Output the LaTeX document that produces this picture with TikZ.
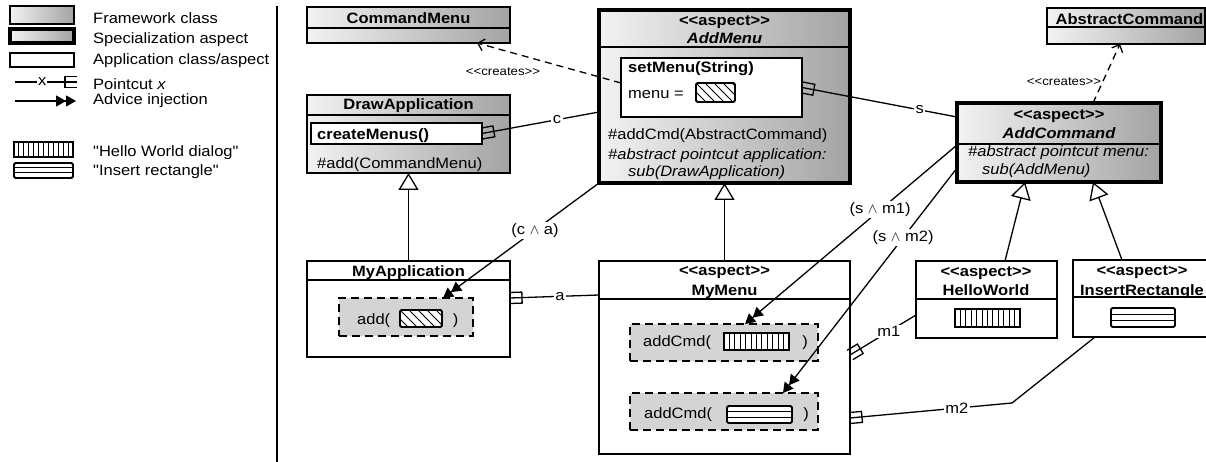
\documentclass[tikz,border=0pt]{standalone}
\usepackage{fontspec}
\setmainfont{Liberation Sans}[FakeStretch=1.1, Ligatures=TeXOff]
\usetikzlibrary{arrows.meta,calc}

% pointcut end: a three-pronged fork whose prongs touch the target
\pgfdeclarearrow{
  name = Fork,
  parameters = {\the\pgfarrowlength,\the\pgfarrowwidth},
  setup code = {
    \pgfarrowssettipend{0pt}
    \pgfarrowssetlineend{0pt}
    \pgfarrowssetbackend{-\pgfarrowlength}
    \pgfarrowshullpoint{0pt}{0.5\pgfarrowwidth}
    \pgfarrowshullpoint{0pt}{-0.5\pgfarrowwidth}
    \pgfarrowshullpoint{-\pgfarrowlength}{0.5\pgfarrowwidth}
    \pgfarrowshullpoint{-\pgfarrowlength}{-0.5\pgfarrowwidth}
    \pgfarrowssavethe\pgfarrowlength
    \pgfarrowssavethe\pgfarrowwidth
  },
  drawing code = {
    \pgfsetdash{}{0pt}
    \pgfsetmiterjoin
    \pgfpathmoveto{\pgfqpoint{0pt}{0.5\pgfarrowwidth}}
    \pgfpathlineto{\pgfqpoint{-\pgfarrowlength}{0.5\pgfarrowwidth}}
    \pgfpathlineto{\pgfqpoint{-\pgfarrowlength}{-0.5\pgfarrowwidth}}
    \pgfpathlineto{\pgfqpoint{0pt}{-0.5\pgfarrowwidth}}
    \pgfusepathqstroke
  },
  defaults = {length=12pt, width=11pt}
}

\definecolor{fwlight}{gray}{0.95}
\definecolor{fwdark}{gray}{0.64}
\definecolor{cutfill}{gray}{0.83}

\newcommand\fsz{\fontsize{15}{18}\selectfont}
\newcommand\fsm{\fontsize{12}{14}\selectfont}

\begin{document}
\begin{tikzpicture}[x=1pt,y=-1pt,
  box/.style={draw, line width=1.3pt, inner sep=0pt, outer sep=0pt, anchor=north west},
  fw/.style={box, left color=fwlight, right color=fwdark},
  spec/.style={fw, line width=4pt},
  app/.style={box, fill=white},
  cut/.style={draw, line width=2.4pt, dash pattern=on 8pt off 5pt, fill=cutfill,
    inner sep=0pt, outer sep=0pt, anchor=north west},
  hatchicon/.style={draw, line width=1.8pt, rounded corners=1.5pt, fill=white,
    inner sep=0pt, outer sep=0pt, anchor=north west,
    path picture={\foreach \k in {-2,...,6}{\draw[line width=1pt]
      ([xshift=\k*9pt]path picture bounding box.north west) -- ++(20pt,-20pt);}}},
  helloicon/.style={draw, line width=1.8pt, fill=white,
    inner sep=0pt, outer sep=0pt, anchor=north west,
    path picture={\foreach \k in {1,...,11}{\draw[line width=0.9pt]
      ($(path picture bounding box.north west)!\k/12!(path picture bounding box.north east)$) --
      ($(path picture bounding box.south west)!\k/12!(path picture bounding box.south east)$);}}},
  insicon/.style={draw, line width=1.8pt, rounded corners=1.5pt, fill=white,
    inner sep=0pt, outer sep=0pt, anchor=north west,
    path picture={\foreach \k in {1,2}{\draw[line width=1pt]
      ($(path picture bounding box.north west)!\k/3!(path picture bounding box.south west)$) --
      ($(path picture bounding box.north east)!\k/3!(path picture bounding box.south east)$);}}},
  txt/.style={inner sep=0pt, font=\fsz, anchor=base},
  txtw/.style={txt, anchor=base west},
  small/.style={inner sep=0pt, font=\fsm, anchor=base},
  lab/.style={fill=white, inner sep=1.5pt, font=\fsz},
  pc/.style={draw, line width=1.3pt, -{Fork}},
  adv/.style={draw, line width=1.3pt, -{Triangle[length=10pt,width=11pt]Triangle[length=10pt,width=11pt]}},
  gen/.style={draw, line width=1.3pt, -{Triangle[length=17pt,width=20pt,fill=white]}},
  crt/.style={draw, line width=1.3pt, dash pattern=on 7pt off 5pt, -{Straight Barb[length=6pt,width=12pt]}},
]
\useasboundingbox (0,0) rectangle (1206,462);
\clip (0,0) rectangle (1206,462);

% ---------------- legend ----------------
\node[fw, minimum width=64pt, minimum height=18pt] (lgfw) at (10,6) {};
\node[fw, line width=3.5pt, minimum width=64pt, minimum height=14pt] (lgspec) at (10,29) {};
\node[app, minimum width=64pt, minimum height=14pt] (lgapp) at (10,53) {};
\coordinate (lgpcA) at (15,82);
\coordinate (lgpcB) at (77,82);
\draw[pc] (lgpcA) -- node[lab, pos=0.44, inner sep=1pt] (lgx) {x} (lgpcB);
\coordinate (lgadA) at (15,101);
\coordinate (lgadB) at (76,101);
\draw[adv] (lgadA) -- (lgadB);
\node[helloicon, minimum width=59pt, minimum height=15pt] (lghello) at (14,142) {};
\node[insicon, minimum width=59pt, minimum height=15pt] (lgins) at (14,163) {};

\node[txtw] (lt1) at (93,24) {Framework class};
\node[txtw] (lt2) at (93,44) {Specialization aspect};
\node[txtw] (lt3) at (93,64.3) {Application class/aspect};
\node[txtw] (lt4) at (93,89.3) {Pointcut \textit{x}};
\node[txtw] (lt5) at (93,104.7) {Advice injection};
\node[txtw] (lt6) at (93,156.7) {"Hello World dialog"};
\node[txtw] (lt7) at (93,176) {"Insert rectangle"};

\coordinate (sepT) at (277,6);
\coordinate (sepB) at (277,462);
\draw[line width=1.2pt] (sepT) -- (sepB);

% ---------------- framework classes ----------------
\node[fw, minimum width=203pt, minimum height=36pt] (cmdmenu) at (307,7) {};
\draw[line width=1.3pt] (307,28) -- (510,28);
\node[txt, font=\fsz\bfseries] (tcm) at (408.5,24) {CommandMenu};

\node[fw, minimum width=203pt, minimum height=78pt] (drawapp) at (307,95) {};
\draw[line width=1.3pt] (307,115) -- (510,115);
\node[txt, font=\fsz\bfseries] (tda) at (408.5,110) {DrawApplication};
\node[app, minimum width=171pt, minimum height=21pt] (createmenus) at (311,123) {};
\node[txtw, font=\fsz\bfseries] (tcr) at (317,140) {createMenus()};
\node[txtw] (tadd) at (317,168.3) {\#add(CommandMenu)};

\node[fw, minimum width=158pt, minimum height=36pt] (abscmd) at (1047,8) {};
\draw[line width=1.3pt] (1047,27) -- (1205,27);
\node[txt, font=\fsz\bfseries] (tac) at (1129.5,25) {AbstractCommand};

% ---------------- specialization aspects ----------------
\node[spec, minimum width=251pt, minimum height=173pt] (addmenu) at (599,10) {};
\draw[line width=2.5pt] (599,47) -- (850,47);
\node[txt, font=\fsz\bfseries] (tam1) at (724.5,26) {<<aspect>>};
\node[txt, font=\fsz\bfseries\itshape] (tam2) at (724.5,43.3) {AddMenu};
\node[app, minimum width=181pt, minimum height=59pt] (setmenu) at (621,58) {};
\node[txtw, font=\fsz\bfseries] (tsm) at (628,72.7) {setMenu(String)};
\node[txtw] (tmenu) at (628,99) {menu =};
\node[hatchicon, minimum width=39pt, minimum height=19pt] (menuicon) at (696,83) {};
\node[txtw] (tam3) at (608,140) {\#addCmd(AbstractCommand)};
\node[txtw, font=\fsz\itshape] (tam4) at (608,159.3) {\#abstract pointcut application:};
\node[txtw, font=\fsz\itshape] (tam5) at (628,176.7) {sub(DrawApplication)};

\node[spec, minimum width=204pt, minimum height=79pt] (addcmd) at (957,103) {};
\draw[line width=2pt] (957,144) -- (1161,144);
\node[txt, font=\fsz\bfseries] (tac1) at (1059,119.3) {<<aspect>>};
\node[txt, font=\fsz\bfseries\itshape] (tac2) at (1059,138.3) {AddCommand};
\node[txtw, font=\fsz\itshape] (tac3) at (968,156.7) {\#abstract pointcut menu:};
\node[txtw, font=\fsz\itshape] (tac4) at (982,175) {sub(AddMenu)};

% ---------------- application classes / aspects ----------------
\node[app, minimum width=203pt, minimum height=96pt] (myapp) at (307,261) {};
\draw[line width=1.3pt] (307,280) -- (510,280);
\node[txt, font=\fsz\bfseries] (tma) at (408.5,276.7) {MyApplication};
\node[cut, minimum width=134pt, minimum height=38pt] (addbox) at (339,298) {};
\node[txtw] (tab1) at (357,324) {add(};
\node[hatchicon, minimum width=42pt, minimum height=17pt] (addicon) at (400,310) {};
\node[txt] (tab2) at (455.5,324) {)};

\node[app, minimum width=251pt, minimum height=193pt] (mymenu) at (599,261) {};
\draw[line width=1.3pt] (599,299) -- (850,299);
\node[txt, font=\fsz\bfseries] (tmm1) at (724.5,275) {<<aspect>>};
\node[txt, font=\fsz\bfseries] (tmm2) at (724.5,295) {MyMenu};
\node[cut, minimum width=188pt, minimum height=37pt] (cmdbox1) at (630,324) {};
\node[txtw] (tcb1) at (643,346.7) {addCmd(};
\node[helloicon, minimum width=65pt, minimum height=17pt] (helloicon1) at (724,333) {};
\node[txt] (tcb2) at (805,346.7) {)};
\node[cut, minimum width=188pt, minimum height=37pt] (cmdbox2) at (630,393) {};
\node[txtw] (tcb3) at (644,418.3) {addCmd(};
\node[insicon, minimum width=65pt, minimum height=17pt] (insicon1) at (727,406) {};
\node[txt] (tcb4) at (806,418.3) {)};

\node[app, minimum width=141pt, minimum height=77pt] (hw) at (916,261) {};
\draw[line width=1.3pt] (916,299) -- (1057,299);
\node[txt, font=\fsz\bfseries] (thw1) at (986,276) {<<aspect>>};
\node[txt, font=\fsz\bfseries] (thw2) at (986,295) {HelloWorld};
\node[helloicon, minimum width=65pt, minimum height=18pt] (hwicon) at (955,309) {};

\node[app, minimum width=140pt, minimum height=77pt] (insrect) at (1073,260) {};
\draw[line width=1.3pt] (1073,297) -- (1213,297);
\node[txt, font=\fsz\bfseries] (tir1) at (1142,275) {<<aspect>>};
\node[txt, font=\fsz\bfseries] (tir2) at (1142,295) {InsertRectangle};
\node[insicon, minimum width=64pt, minimum height=19pt] (insicon2) at (1111,308) {};

% ---------------- generalizations ----------------
\draw[gen] (myapp.north) -- (drawapp.south);
\draw[gen] (mymenu.north) -- (addmenu.south);
\draw[gen] ([xshift=18.5pt]hw.north) -- ([xshift=-34pt]addcmd.south);
\draw[gen] ([xshift=-21pt]insrect.north) -- ([xshift=34pt]addcmd.south);

% ---------------- creates dependencies ----------------
\draw[crt] ([yshift=4.5pt]setmenu.west) -- ([xshift=68.5pt]cmdmenu.south);
\node[small] (tcr1) at (503,76) {<<creates>>};
\draw[crt] ([xshift=34pt]addcmd.north) -- ([xshift=-6pt]abscmd.south);
\node[small] (tcr2) at (1064,86) {<<creates>>};

% ---------------- pointcuts ----------------
\draw[pc] ([yshift=-15.5pt]addmenu.west) -- node[lab, pos=0.36] (lc) {c} (createmenus.east);
\draw[pc] ([yshift=25.5pt]addcmd.west) -- node[lab, pos=0.24] (ls) {s} (setmenu.east);
\draw[pc] ([yshift=62.5pt]mymenu.west) -- node[lab, pos=0.44] (la) {a} ([yshift=11pt]myapp.east);
\draw[pc] ([yshift=-15.5pt]hw.west) -- node[lab, pos=0.41] (lm1) {m1} ([yshift=2.5pt]mymenu.east);
\coordinate (m2bend) at (1012,403);
\draw[pc] ([xshift=-48pt]insrect.south) -- (m2bend)
  -- node[lab, pos=0.34] (lm2) {m2} ([yshift=-60.5pt]mymenu.east);

% ---------------- advice injections ----------------
\draw[adv] (addmenu.south west) -- node[lab, pos=0.41] (lca) {(c $\wedge$ a)} ([xshift=37pt]addbox.north);
\draw[adv] ([yshift=-2.5pt]addcmd.west) -- node[lab, pos=0.363] (lsm1) {(s $\wedge$ m1)} ([xshift=21pt]cmdbox1.north);
\draw[adv] ([yshift=-25.5pt]addcmd.west) -- node[lab, pos=0.31] (lsm2) {(s $\wedge$ m2)} ([xshift=59pt]cmdbox2.north);
\end{tikzpicture}
\end{document}
